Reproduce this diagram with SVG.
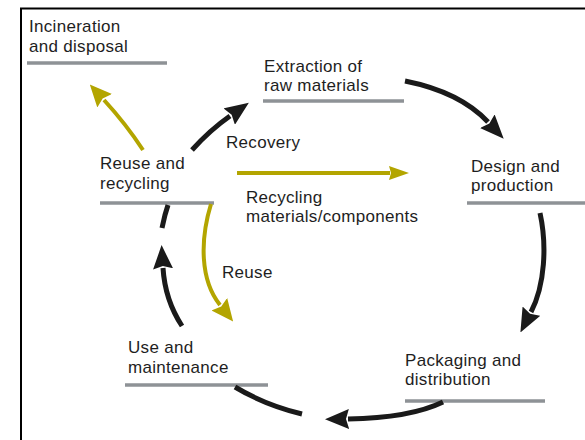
<svg xmlns="http://www.w3.org/2000/svg" width="585" height="440" viewBox="0 0 585 440">
<style>
  text { font-family: "Liberation Sans", Arial, sans-serif; font-size: 17px; letter-spacing: 0.3px; fill: #1e1e1e; }
  .ul { stroke: #8e9296; stroke-width: 3.5; fill: none; }
  .blk { stroke: #1a1a1a; stroke-width: 5; fill: none; }
  .ylw { stroke: #b3a500; stroke-width: 4; fill: none; }
</style>
<defs>
  <marker id="ahB" viewBox="0 0 24 20" refX="1" refY="10" markerWidth="24" markerHeight="20" markerUnits="userSpaceOnUse" orient="auto">
    <path d="M0,0 L24,10 L0,20 L3,10 Z" fill="#1a1a1a"/>
  </marker>
  <marker id="ahY" viewBox="0 0 22 20" refX="1" refY="10" markerWidth="22" markerHeight="20" markerUnits="userSpaceOnUse" orient="auto">
    <path d="M0,0 L22,10 L0,20 L3,10 Z" fill="#b3a500"/>
  </marker>
  <marker id="ahYs" viewBox="0 0 20 14" refX="1" refY="7" markerWidth="20" markerHeight="14" markerUnits="userSpaceOnUse" orient="auto">
    <path d="M0,0 L20,7 L0,14 L2,7 Z" fill="#b3a500"/>
  </marker>
</defs>
<rect width="585" height="440" fill="#ffffff"/>
<path d="M21,440 L21,8.5 L585,8.5" stroke="#000" stroke-width="2" fill="none"/>

<g id="incineration">
  <text x="29" y="32">Incineration</text>
  <text x="29" y="52">and disposal</text>
  <line class="ul" x1="27" y1="63" x2="167" y2="63"/>
</g>
<g id="extraction">
  <text x="264" y="72">Extraction of</text>
  <text x="264" y="91">raw materials</text>
  <line class="ul" x1="263" y1="101" x2="404" y2="101"/>
</g>
<g id="reuse-recycling">
  <text x="100" y="169">Reuse and</text>
  <text x="100" y="189">recycling</text>
  <line class="ul" x1="100" y1="203" x2="214" y2="203"/>
</g>
<g id="design">
  <text x="471" y="172">Design and</text>
  <text x="471" y="191">production</text>
  <line class="ul" x1="467" y1="203" x2="585" y2="203"/>
</g>
<g id="packaging">
  <text x="405" y="366">Packaging and</text>
  <text x="405" y="385">distribution</text>
  <line class="ul" x1="405" y1="401" x2="545" y2="401"/>
</g>
<g id="use">
  <text x="128" y="353">Use and</text>
  <text x="128" y="373">maintenance</text>
  <line class="ul" x1="125" y1="385" x2="268" y2="385"/>
</g>

<g id="connectors">
  <path class="blk" d="M405,81 Q460,92 488,122" marker-end="url(#ahB)"/>
  <path class="blk" d="M540,213 C547,245 545,285 531,312" marker-end="url(#ahB)"/>
  <path class="blk" d="M443,402 Q410,418 348,419" marker-end="url(#ahB)"/>
  <path class="blk" d="M235,387 Q265,405 302,414"/>
  <path class="blk" d="M182,326 Q165,300 163,268" marker-end="url(#ahB)"/>
  <path class="blk" stroke-width="4" d="M162,228 L165,215 L168,205"/>
  <path class="blk" d="M192,150 Q210,130 230,116" marker-end="url(#ahB)"/>
  <path class="ylw" d="M143,150 Q126,124 104,100" marker-end="url(#ahY)"/>
  <path class="ylw" d="M211,204 C200,240 200,280 220,305" marker-end="url(#ahY)"/>
  <path class="ylw" stroke-width="3.5" d="M237,173 L390,173" marker-end="url(#ahYs)"/>
  <text x="226" y="148">Recovery</text>
  <text x="246" y="203">Recycling</text>
  <text x="246" y="222">materials/components</text>
  <text x="222" y="278">Reuse</text>
</g>
</svg>
